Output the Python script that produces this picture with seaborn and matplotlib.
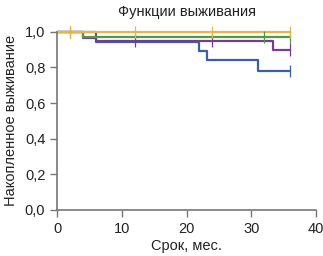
import numpy as np
import pandas as pd
import matplotlib
matplotlib.use('Agg')
import matplotlib.pyplot as plt
from matplotlib.ticker import FuncFormatter
import seaborn as sns

# Step curves (time in months, cumulative survival)
groups = ['blue', 'purple', 'green', 'orange']
blue_t = [0, 6, 22, 23.2, 31, 36]
blue_s = [1.0, 0.94, 0.89, 0.84, 0.78, 0.78]
purple_t = [0, 4, 6, 33.3, 36]
purple_s = [1.0, 0.965, 0.95, 0.90, 0.90]
green_t = [0, 4, 36]
green_s = [1.0, 0.97, 0.97]
orange_t = [0, 36]
orange_s = [1.0, 1.0]

# censored observations
blue_c = [36]
purple_c = [12, 24, 36]
green_c = [2, 32, 36]
orange_c = [2, 12, 24, 36]

colors = {'blue': '#3a5fa8', 'purple': '#7b3b8c', 'green': '#4e9a4c', 'orange': '#e9b54a'}

curves = pd.concat([
    pd.DataFrame({'t': blue_t, 's': blue_s, 'g': 'blue'}),
    pd.DataFrame({'t': purple_t, 's': purple_s, 'g': 'purple'}),
    pd.DataFrame({'t': green_t, 's': green_s, 'g': 'green'}),
    pd.DataFrame({'t': orange_t, 's': orange_s, 'g': 'orange'}),
])

def surv_at(ts, ss, x):
    idx = np.searchsorted(ts, x, side='right') - 1
    return ss[idx]

cens = []
for g, ts, ss, cs in [('blue', blue_t, blue_s, blue_c), ('purple', purple_t, purple_s, purple_c),
                      ('green', green_t, green_s, green_c), ('orange', orange_t, orange_s, orange_c)]:
    for c in cs:
        cens.append({'t': c, 's': surv_at(ts, ss, c), 'g': g})
cens = pd.DataFrame(cens)

sns.set_style('ticks')
plt.rcParams['font.family'] = ['Liberation Sans', 'DejaVu Sans']

fig = plt.figure(figsize=(3.23, 2.56), dpi=100)
ax = fig.add_axes([0.177, 0.18, 0.801, 0.696])

for g in groups:
    d = curves[curves['g'] == g]
    sns.lineplot(data=d, x='t', y='s', color=colors[g], drawstyle='steps-post',
                 linewidth=1.6, ax=ax, clip_on=False, estimator=None, sort=False)
sns.scatterplot(data=cens, x='t', y='s', hue='g', palette=colors, marker='|', s=80,
                linewidth=0.9, ax=ax, legend=False, clip_on=False, zorder=5)

ax.set_xlim(0, 40)
ax.set_ylim(0, 1.0)
ax.set_xticks([0, 10, 20, 30, 40])
ax.set_yticks([0, 0.2, 0.4, 0.6, 0.8, 1.0])
ax.yaxis.set_major_formatter(FuncFormatter(lambda v, p: f'{v:.1f}'.replace('.', ',')))
ax.set_title('Функции выживания', fontsize=10.5, pad=11, color='#222222')
ax.set_xlabel('Срок, мес.', fontsize=10.5, labelpad=2, color='#222222')
ax.set_ylabel('Накопленное выживание', fontsize=10.5, labelpad=5, color='#222222')
ax.tick_params(labelsize=10.5, color='#777777', labelcolor='#222222', length=5, width=1)
for sp in ['left', 'bottom']:
    ax.spines[sp].set_color('#777777')
    ax.spines[sp].set_linewidth(1.2)
sns.despine(ax=ax)

fig.savefig('out.png', dpi=100)
